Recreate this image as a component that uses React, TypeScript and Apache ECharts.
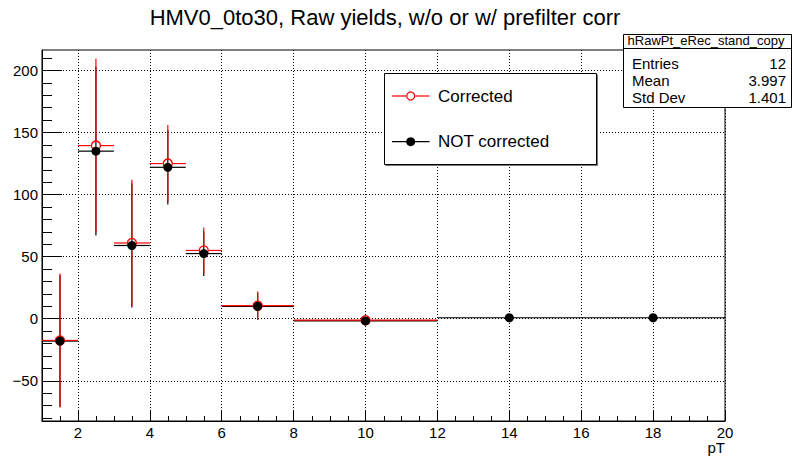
import React, { useEffect, useRef } from "react";
import * as echarts from "echarts";

// ---- data ----
const binLow = [1, 2, 3, 4, 5, 6, 8, 12, 16];
const binHigh = [2, 3, 4, 5, 6, 8, 12, 16, 20];
const binCenter = [1.5, 2.5, 3.5, 4.5, 5.5, 7, 10, 14, 18];
const corrected = [-17.5, 139.5, 61, 125, 55, 10.5, -1.2];
const correctedErr = [54, 70, 51, 31, 18.5, 11.5, 2.5];
const notCorrected = [-18, 135, 59, 122, 52.5, 10, -1.8, 0.8, 0.8];
const notCorrectedErr = [53, 68, 50, 30, 18, 11, 2, 0.5, 0.5];

const xMajorTicks = [2, 4, 6, 8, 10, 12, 14, 16, 18, 20];
const xMinorTicks: number[] = [1.5, 2.5, 3, 3.5, 4.5, 5, 5.5, 6.5, 7, 7.5, 8.5, 9, 9.5, 10.5, 11, 11.5, 12.5, 13, 13.5, 14.5, 15, 15.5, 16.5, 17, 17.5, 18.5, 19, 19.5];
const yMajorTicks = [-50, 0, 50, 100, 150, 200];
const yMinorTicks = [-80, -70, -60, -40, -30, -20, -10, 10, 20, 30, 40, 60, 70, 80, 90, 110, 120, 130, 140, 160, 170, 180, 190, 210];

const titleText = "HMV0_0to30, Raw yields, w/o or w/ prefilter corr";
const statsName = "hRawPt_eRec_stand_copy";
const statsLabels = ["Entries", "Mean", "Std Dev"];
const statsValues = ["12", "3.997", "1.401"];
const legendLabels = ["Corrected", "NOT corrected"];

const FONT = "'Liberation Sans', Arial, Helvetica, sans-serif";
const X_MIN = 1, X_MAX = 20, Y_MIN = -82.4, Y_MAX = 216.5;

function errRender(color: string, gap: number) {
  return (params: any, api: any) => {
    const xl = api.value(0), xh = api.value(1), xc = api.value(2), y = api.value(3), e = api.value(4);
    const pL = api.coord([xl, y]);
    const pH = api.coord([xh, y]);
    const pC = api.coord([xc, y]);
    const pT = api.coord([xc, y + e]);
    const pB = api.coord([xc, y - e]);
    const style = { stroke: color, lineWidth: 1.2 };
    const children: any[] = [];
    const seg = (x1: number, y1: number, x2: number, y2: number) => {
      children.push({ type: "line", shape: { x1, y1, x2, y2 }, style });
    };
    if (pC[0] - gap > pL[0]) seg(pL[0], pC[1], pC[0] - gap, pC[1]);
    if (pH[0] > pC[0] + gap) seg(pC[0] + gap, pC[1], pH[0], pC[1]);
    if (pC[1] - gap > pT[1]) seg(pC[0], pT[1], pC[0], pC[1] - gap);
    if (pB[1] > pC[1] + gap) seg(pC[0], pC[1] + gap, pC[0], pB[1]);
    return { type: "group", children };
  };
}

function minorTickRender(params: any, api: any) {
  const p = api.coord([api.value(0), Y_MIN]);
  const x = Math.round(p[0]) + 0.5;
  return {
    type: "line",
    shape: { x1: x, y1: p[1], x2: x, y2: p[1] - 5 },
    style: { stroke: "#000", lineWidth: 1 },
  };
}

export default function App() {
  const ref = useRef<HTMLDivElement>(null);
  useEffect(() => {
    if (!ref.current) return;
    const chart = echarts.init(ref.current, undefined, { renderer: "svg" });

    const redErrData = corrected.map((v, i) => [binLow[i], binHigh[i], binCenter[i], v, correctedErr[i]]);
    const blackErrData = notCorrected.map((v, i) => [binLow[i], binHigh[i], binCenter[i], v, notCorrectedErr[i]]);
    const redPts = corrected.map((v, i) => [binCenter[i], v]);
    const blackPts = notCorrected.map((v, i) => [binCenter[i], v]);
    const minorTickData = xMinorTicks.map((v) => [v, Y_MIN]);

    const labelStyle = { color: "#000", fontSize: 15, fontFamily: FONT };
    const minus = (v: number) => String(v).replace("-", "\u2212");
    const gridPos = { left: 42, right: 67, top: 50, bottom: 35 };

    const option: any = {
      animation: false,
      backgroundColor: "#fff",
      grid: [
        { ...gridPos, show: true, borderColor: "#000", borderWidth: 1, backgroundColor: "transparent" },
        { ...gridPos, show: false },
      ],
      xAxis: [
        {
          type: "value", gridIndex: 0, min: X_MIN, max: X_MAX, position: "bottom",
          axisLine: { show: true, onZero: false, lineStyle: { color: "#000", width: 1 } },
          axisTick: { show: true, inside: true, length: 10, customValues: xMajorTicks, lineStyle: { color: "#000", width: 1 } },
          axisLabel: { show: true, customValues: xMajorTicks, margin: 4, ...labelStyle },
          splitLine: { show: true, lineStyle: { color: "#000", width: 1, type: [1, 2] } },
        },
        {
          type: "value", gridIndex: 1, min: X_MIN, max: X_MAX, position: "bottom",
          axisLine: { show: false, onZero: false },
          axisTick: { show: false },
          axisLabel: { show: false },
          splitLine: { show: false },
        },
      ],
      yAxis: [
        {
          type: "value", gridIndex: 0, min: Y_MIN, max: Y_MAX, position: "left",
          axisLine: { show: true, onZero: false, lineStyle: { color: "#000", width: 1 } },
          axisTick: { show: true, inside: true, length: 20, customValues: yMajorTicks, lineStyle: { color: "#000", width: 1 } },
          axisLabel: { show: true, customValues: yMajorTicks, margin: 4, formatter: minus, ...labelStyle },
          splitLine: { show: true, lineStyle: { color: "#000", width: 1, type: [1, 2] } },
        },
        {
          type: "value", gridIndex: 1, min: Y_MIN, max: Y_MAX, position: "left",
          axisLine: { show: false, onZero: false },
          axisTick: { show: true, inside: true, length: 10, customValues: yMinorTicks, lineStyle: { color: "#000", width: 1 } },
          axisLabel: { show: false },
          splitLine: { show: false },
        },
      ],
      series: [
        {
          type: "custom", name: "xMinorTicks", xAxisIndex: 0, yAxisIndex: 0, z: 1, silent: true,
          renderItem: minorTickRender, data: minorTickData, encode: { x: 0, y: 1 },
        },
        {
          type: "custom", name: "blackErr", xAxisIndex: 0, yAxisIndex: 0, z: 2,
          renderItem: errRender("#000", 0), data: blackErrData, encode: { x: [0, 1, 2], y: 3 },
        },
        {
          type: "custom", name: "redErr", xAxisIndex: 0, yAxisIndex: 0, z: 3,
          renderItem: errRender("#ff0000", 5), data: redErrData, encode: { x: [0, 1, 2], y: 3 },
        },
        {
          type: "scatter", name: "Corrected", xAxisIndex: 0, yAxisIndex: 0, z: 4,
          symbol: "circle", symbolSize: 9, data: redPts,
          itemStyle: { color: "rgba(0,0,0,0)", borderColor: "#ff0000", borderWidth: 1.3, opacity: 1 },
        },
        {
          type: "scatter", name: "NOT corrected", xAxisIndex: 0, yAxisIndex: 0, z: 5,
          symbol: "circle", symbolSize: 9, data: blackPts,
          itemStyle: { color: "#000", opacity: 1 },
        },
      ],
      graphic: [
        {
          type: "text", x: 385, y: 17, z: 100,
          style: { text: titleText, fill: "#000", font: `22px ${FONT}`, textAlign: "center", textVerticalAlign: "middle" },
        },
        {
          type: "text", x: 725, y: 447, z: 100,
          style: { text: "pT", fill: "#000", font: `15px ${FONT}`, textAlign: "right", textVerticalAlign: "middle" },
        },
        { type: "rect", z: 100, shape: { x: 623.5, y: 34.5, width: 168, height: 73 }, style: { fill: "#fff", stroke: "#000", lineWidth: 1 } },
        { type: "line", z: 101, shape: { x1: 623.5, y1: 48.5, x2: 791.5, y2: 48.5 }, style: { stroke: "#000", lineWidth: 1 } },
        {
          type: "text", x: 706, y: 40.5, z: 102,
          style: { text: statsName, fill: "#000", font: `13px ${FONT}`, textAlign: "center", textVerticalAlign: "middle" },
        },
        ...statsLabels.map((t, i) => ({
          type: "text", x: 632, y: 63 + i * 17.3, z: 102,
          style: { text: t, fill: "#000", font: `15px ${FONT}`, textAlign: "left", textVerticalAlign: "middle" },
        })),
        ...statsValues.map((t, i) => ({
          type: "text", x: 786, y: 63 + i * 17.3, z: 102,
          style: { text: t, fill: "#000", font: `15px ${FONT}`, textAlign: "right", textVerticalAlign: "middle" },
        })),
        { type: "rect", z: 99, shape: { x: 385.5, y: 74.5, width: 212.5, height: 91.5 }, style: { fill: "#777", stroke: "none" } },
        { type: "rect", z: 100, shape: { x: 384.5, y: 73.5, width: 212, height: 91 }, style: { fill: "#fff", stroke: "#000", lineWidth: 1 } },
        { type: "line", z: 101, shape: { x1: 392, y1: 96, x2: 406, y2: 96 }, style: { stroke: "#ff0000", lineWidth: 1.2 } },
        { type: "line", z: 101, shape: { x1: 415.5, y1: 96, x2: 429.5, y2: 96 }, style: { stroke: "#ff0000", lineWidth: 1.2 } },
        { type: "circle", z: 101, shape: { cx: 410.7, cy: 96, r: 4 }, style: { fill: "#fff", stroke: "#ff0000", lineWidth: 1.3 } },
        { type: "line", z: 101, shape: { x1: 392, y1: 141.7, x2: 429.5, y2: 141.7 }, style: { stroke: "#000", lineWidth: 1.2 } },
        { type: "circle", z: 101, shape: { cx: 410.7, cy: 141.7, r: 4.5 }, style: { fill: "#000", stroke: "none" } },
        ...legendLabels.map((t, i) => ({
          type: "text", x: 438, y: 96 + i * 45.7, z: 102,
          style: { text: t, fill: "#000", font: `17px ${FONT}`, textAlign: "left", textVerticalAlign: "middle" },
        })),
      ],
    };
    chart.setOption(option);
    return () => chart.dispose();
  }, []);
  return <div ref={ref} style={{ position: "absolute", left: 0, top: 0, width: 792, height: 456 }} />;
}
